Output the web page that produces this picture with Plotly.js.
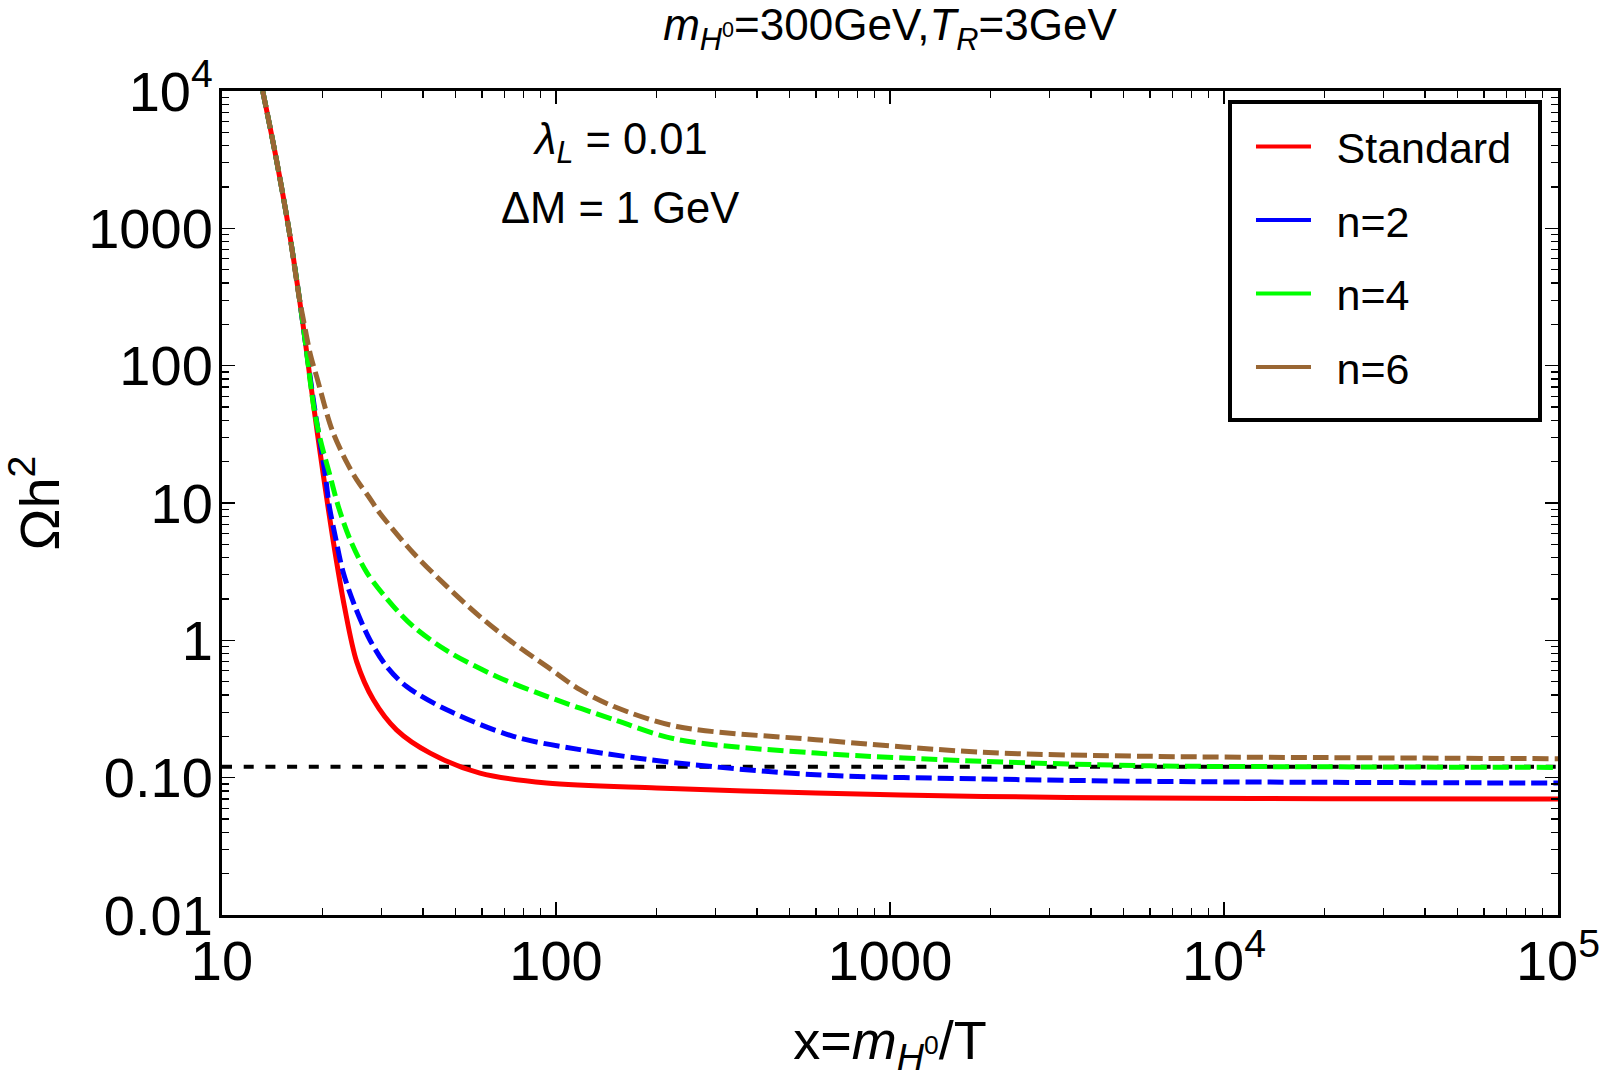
<!DOCTYPE html>
<html>
<head>
<meta charset="utf-8">
<script src="https://cdn.plot.ly/plotly-3.0.1.min.js"></script>
<style>
  html, body { margin: 0; padding: 0; background: #fff; }
  #omega-plot { width: 1600px; height: 1078px; }
</style>
</head>
<body>
<div id="omega-plot"></div>
<script>
// values, x = m_H0 / T, y = Omega h^2
const stdX = [13.24, 14.45, 15.84, 17.04, 17.73, 18.82, 20.07, 21.5, 23.25, 25.3, 28.4, 33.3, 42, 59.2, 93.7, 200, 600, 1900, 6000, 20000, 100000];
const stdY = [10000, 3460, 1000, 311, 154, 50.4, 16.5, 5.40, 1.77, 0.70, 0.369, 0.223, 0.151, 0.108, 0.0914, 0.084, 0.0774, 0.073, 0.071, 0.0703, 0.070];

const n2X = [13.24, 14.45, 15.84, 17.04, 17.73, 18.9, 20.34, 20.96, 21.94, 23.09, 25.0, 27.7, 31.1, 35.7, 47.1, 74.5, 118, 230, 600, 1900, 6000, 20000, 100000];
const n2Y = [10000, 3460, 1000, 311, 154, 50.4, 16.5, 9.44, 5.40, 3.09, 1.77, 1.01, 0.646, 0.461, 0.312, 0.200, 0.160, 0.128, 0.105, 0.0978, 0.094, 0.0925, 0.0913];

const n4X = [13.24, 14.45, 15.84, 17.04, 17.73, 18.82, 19.7, 20.96, 22.3, 24.2, 27.2, 32.6, 37.4, 47.1, 66.4, 93.8, 148.5, 230, 600, 1900, 6000, 20000, 100000];
const n4Y = [10000, 3460, 1000, 311, 154, 50.4, 28.8, 16.5, 9.44, 5.40, 3.09, 1.77, 1.26, 0.840, 0.546, 0.391, 0.2656, 0.190, 0.151, 0.1315, 0.122, 0.120, 0.1188];

const n6X = [13.24, 14.45, 15.84, 17.0, 17.56, 18.4, 19.25, 21.35, 23.7, 25.3, 27.5, 29.7, 37.4, 47.1, 59.2, 74.5, 93.8, 118, 148.5, 230, 600, 1900, 6000, 20000, 100000];
const n6Y = [10000, 3460, 1000, 320, 211, 120, 81.5, 34.1, 19.5, 14.8, 11.1, 8.43, 4.32, 2.47, 1.49, 0.956, 0.646, 0.437, 0.331, 0.236, 0.189, 0.153, 0.143, 0.140, 0.1374];

// observed relic density line
const obsX = [10, 100000];
const obsY = [0.12, 0.12];

const seriesNames = ['Standard', 'n=2', 'n=4', 'n=6'];
const seriesColors = ['#ff0000', '#0000ff', '#00ff00', '#996633'];

const xTickVals = [10, 100, 1000, 10000, 100000];
const xTickText = ['10', '100', '1000', '10<sup>4</sup>', '10<sup>5</sup>'];
const yTickVals = [0.01, 0.1, 1, 10, 100, 1000, 10000];
const yTickText = ['0.01', '0.10', '1', '10', '100', '1000', '10<sup>4</sup>'];
const minorSteps = [2, 3, 4, 5, 6, 7, 8, 9];
const xDecades = [10, 100, 1000, 10000];
const yDecades = [0.01, 0.1, 1, 10, 100, 1000];

function minorVals(decades) {
    const out = [];
    decades.forEach(d => minorSteps.forEach(m => out.push(d * m)));
    return out;
}

function omegaPlot() {
    const font = 'Liberation Sans, Arial, Helvetica, sans-serif';
    const curves = [[stdX, stdY], [n2X, n2Y], [n4X, n4Y], [n6X, n6Y]];

    const data = [{
        x: obsX,
        y: obsY,
        mode: 'lines',
        line: {color: 'black', width: 4, dash: '10px,11.7px'},
        showlegend: false,
        hoverinfo: 'skip'
    }];

    // same stacking as the reference: red at the bottom, brown on top
    curves.forEach((c, i) => {
        data.push({
            x: c[0],
            y: c[1],
            mode: 'lines',
            line: {
                color: seriesColors[i],
                width: 5,
                dash: i === 0 ? 'solid' : '16px,6px',
                shape: 'spline',
                smoothing: 0.9
            },
            showlegend: false,
            name: seriesNames[i]
        });
    });

    // legend shows plain solid samples
    seriesNames.forEach((name, i) => {
        data.push({
            x: [null],
            y: [null],
            mode: 'lines',
            name: '\u00a0\u2009' + name,
            legendgroup: 'g' + i,
            line: {color: seriesColors[i], width: 4}
        });
    });

    const axisCommon = {
        type: 'log',
        showline: true,
        linecolor: 'black',
        linewidth: 3,
        mirror: 'allticks',
        ticks: 'inside',
        ticklen: 13,
        tickwidth: 1.3,
        tickcolor: 'black',
        showgrid: false,
        zeroline: false,
        tickmode: 'array',
        ticklabeloverflow: 'allow',
        tickfont: {family: font, size: 56, color: 'black'}
    };

    const layout = {
        width: 1600,
        height: 1078,
        paper_bgcolor: 'white',
        plot_bgcolor: 'white',
        margin: {l: 222, r: 42, t: 91, b: 163},
        title: {
            text: '<i>m</i><sub><i>H</i><sup>0</sup></sub>=300GeV,<i>T</i><sub><i>R</i></sub>=3GeV',
            font: {family: font, size: 44, color: 'black'},
            x: 0.5,
            xref: 'paper',
            y: 1 - 25 / 1078,
            yref: 'container',
            yanchor: 'middle'
        },
        xaxis: Object.assign({}, axisCommon, {
            range: [1, 5],
            tickvals: xTickVals,
            ticktext: xTickText,
            ticklabelstandoff: -5,
            minor: {tickmode: 'array', tickvals: minorVals(xDecades), ticks: 'inside', ticklen: 7, tickwidth: 1.2, tickcolor: 'black', showgrid: false},
            title: {
                text: 'x=<i>m</i><sub><i>H</i><sup>0</sup></sub>/T',
                font: {family: font, size: 54, color: 'black'},
                standoff: 47
            }
        }),
        yaxis: Object.assign({}, axisCommon, {
            range: [-2, 4],
            tickvals: yTickVals,
            ticktext: yTickText,
            ticklabelstandoff: -5,
            minor: {tickmode: 'array', tickvals: minorVals(yDecades), ticks: 'inside', ticklen: 7, tickwidth: 1.2, tickcolor: 'black', showgrid: false},
            title: {
                text: '\u03A9h<sup>2</sup>',
                font: {family: font, size: 56, color: 'black'},
                standoff: 39
            }
        }),
        legend: {
            x: 0.7702,
            y: 0.9745,
            xanchor: 'left',
            yanchor: 'top',
            bgcolor: 'rgba(0,0,0,0)',
            borderwidth: 0,
            itemwidth: 55,
            traceorder: 'grouped',
            tracegroupgap: 14.6,
            font: {family: font, size: 43, color: 'black'}
        },
        shapes: [{
            type: 'rect',
            xref: 'paper',
            yref: 'paper',
            x0: (1230 - 222) / 1336,
            x1: (1540 - 222) / 1336,
            y0: (915 - 420) / 824,
            y1: (915 - 102) / 824,
            line: {color: 'black', width: 4},
            fillcolor: 'white',
            layer: 'below'
        }],
        annotations: [{
            text: '<i>\u03BB</i><sub><i>L</i></sub> = 0.01',
            showarrow: false,
            xref: 'paper',
            yref: 'paper',
            x: (620 - 222) / 1336,
            y: (915 - 142) / 824,
            xanchor: 'center',
            yanchor: 'middle',
            font: {family: font, size: 43.5, color: 'black'}
        },
        {
            text: '\u0394M = 1 GeV',
            showarrow: false,
            xref: 'paper',
            yref: 'paper',
            x: (620 - 222) / 1336,
            y: (915 - 208) / 824,
            xanchor: 'center',
            yanchor: 'middle',
            font: {family: font, size: 43.5, color: 'black'}
        }]
    };

    Plotly.newPlot('omega-plot', data, layout, {displayModeBar: false, staticPlot: true});
}

omegaPlot();
</script>
</body>
</html>
